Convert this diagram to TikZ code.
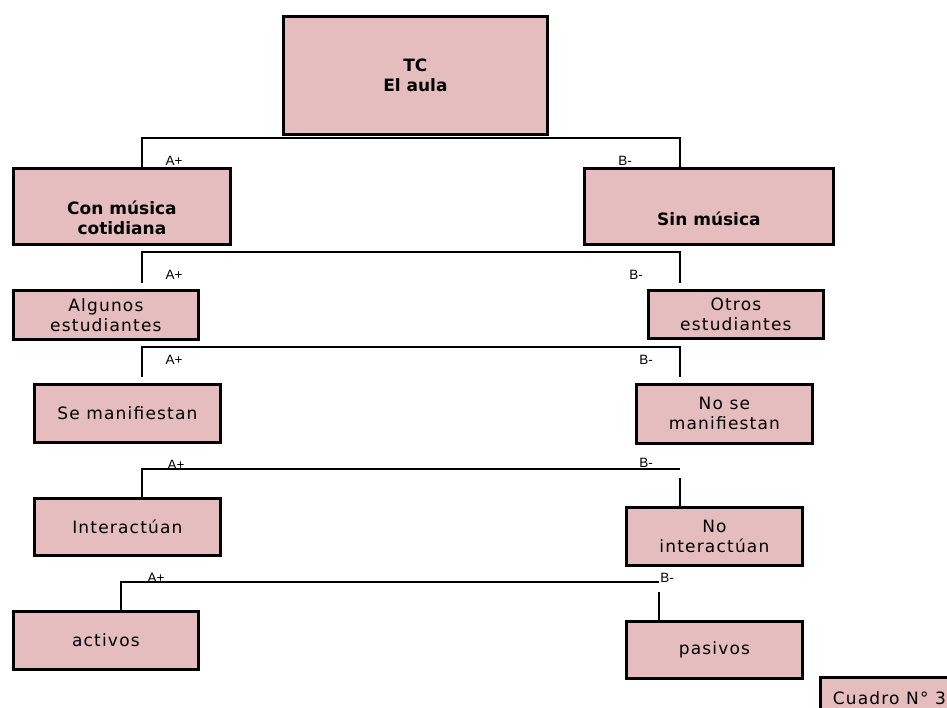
\documentclass[tikz,border=0pt]{standalone}
\usepackage{fontspec}
\setmainfont{DejaVu Sans}[LetterSpace=7,BoldFeatures={LetterSpace=0}]
\newfontfamily\tagfont{Liberation Sans}
\usetikzlibrary{calc}
\definecolor{boxpink}{RGB}{229,189,191}
\begin{document}
\begin{tikzpicture}[x=1pt,y=-1pt]
    \tikzstyle{box}=[draw=black,line width=2.8pt,fill=boxpink,anchor=north west,align=center,inner sep=0pt,font=\fontsize{17}{20}\selectfont]
    \tikzstyle{boxtext}=[align=center,inner sep=0pt,font=\fontsize{17}{20}\selectfont\bfseries]
    \tikzstyle{wire}=[line width=2.5pt]
    \tikzstyle{tag}=[inner sep=0pt,font=\tagfont\fontsize{13.5}{15}\selectfont]

    \useasboundingbox (0,0) rectangle (947,708);

    \node[box,minimum width=264pt,minimum height=118pt] at (282,15) (tc) {\textbf{TC}\\\textbf{El aula}};
    \node[box,minimum width=217pt,minimum height=76pt,label={[boxtext,yshift=-11pt]center:{Con música\\cotidiana}}] at (12,167) (con) {};
    \node[box,minimum width=249pt,minimum height=76pt,label={[boxtext,yshift=-12pt]center:{Sin música}}] at (583,167) (sin) {};
    \node[box,minimum width=185pt,minimum height=49pt] at (12,289) (alg) {Algunos\\estudiantes};
    \node[box,minimum width=175pt,minimum height=48pt] at (647,289) (otr) {Otros\\estudiantes};
    \node[box,minimum width=186pt,minimum height=58pt] at (33,383) (sem) {Se manifiestan};
    \node[box,minimum width=176pt,minimum height=59pt] at (635,383) (nsm) {No se\\manifiestan};
    \node[box,minimum width=186pt,minimum height=57pt] at (33,497) (int) {Interactúan};
    \node[box,minimum width=176pt,minimum height=58pt] at (625,506) (nin) {No\\interactúan};
    \node[box,minimum width=185pt,minimum height=58pt] at (12,610) (act) {activos};
    \node[box,minimum width=176pt,minimum height=57pt] at (625,620) (pas) {pasivos};
    \node[box,minimum width=138pt,minimum height=41pt] at (819,676) (cua) {Cuadro N° 3};

    % ramas
    \coordinate (b1l) at (142,138); \coordinate (b1r) at (680,138);
    \coordinate (b2l) at (142,252); \coordinate (b2r) at (680,252);
    \coordinate (b3l) at (142,347); \coordinate (b3r) at (680,347);
    \coordinate (b4l) at (142,469); \coordinate (b4r) at (680,469);
    \coordinate (b5l) at (121,582); \coordinate (b5r) at (659,582);

    \draw[wire] (con.north -| b1l) -- (b1l) -- (b1r) -- (sin.north -| b1r);
    \draw[wire] ($(alg.north -| b2l)+(0,-6)$) -- (b2l) -- (b2r) -- ($(otr.north -| b2r)+(0,-6)$);
    \draw[wire] ($(sem.north -| b3l)+(0,-6)$) -- (b3l) -- (b3r) -- ($(nsm.north -| b3r)+(0,-6)$);
    \draw[wire] (int.north -| b4l) -- (b4l) -- (b4r);
    \draw[wire] ($(b4r)+(0,9)$) -- (nin.north -| b4r);
    \draw[wire] (act.north -| b5l) -- (b5l) -- (b5r);
    \draw[wire] ($(b5r)+(0,10)$) -- (pas.north -| b5r);

    \node[tag] at (174,161) (t1a) {A+};
    \node[tag] at (625,161) (t1b) {B-};
    \node[tag] at (174,275) (t2a) {A+};
    \node[tag] at (636,275) (t2b) {B-};
    \node[tag] at (174,360) (t3a) {A+};
    \node[tag] at (646,360) (t3b) {B-};
    \node[tag] at (176,465) (t4a) {A+};
    \node[tag] at (646,463) (t4b) {B-};
    \node[tag] at (156,578) (t5a) {A+};
    \node[tag] at (667,578) (t5b) {B-};
\end{tikzpicture}
\end{document}
